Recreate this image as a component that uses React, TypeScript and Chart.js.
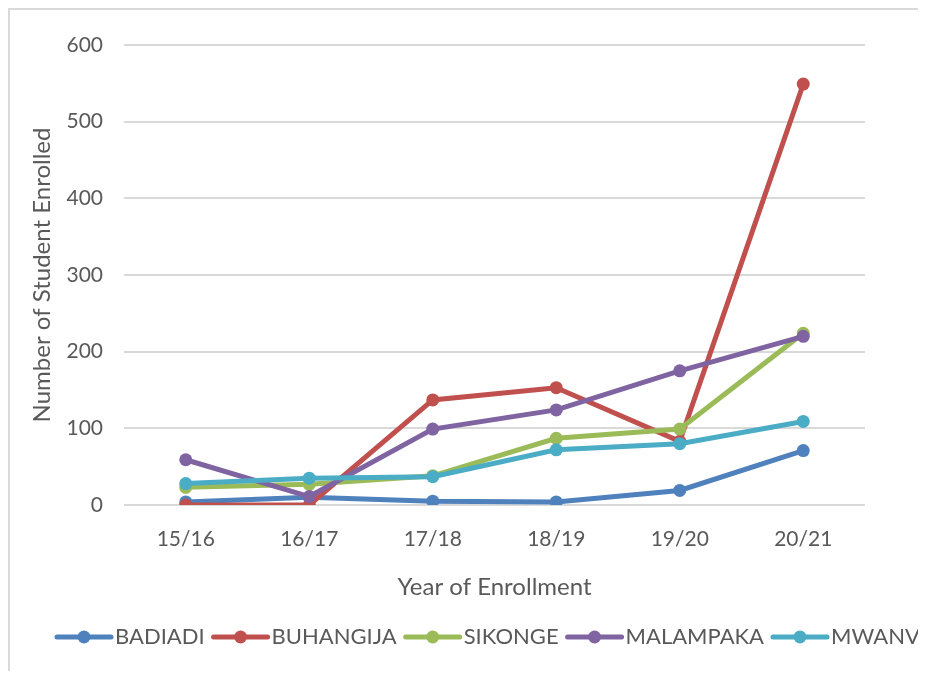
import React, { useEffect, useRef } from 'react';
import { Chart, registerables } from 'chart.js';

Chart.register(...registerables);

const categories = ['15/16', '16/17', '17/18', '18/19', '19/20', '20/21'];
const badiadi = [4, 10, 5, 4, 19, 71];
const buhangija = [0, 0, 137, 153, 83, 549];
const sikonge = [23, 27, 38, 87, 99, 224];
const malampaka = [59, 11, 99, 124, 175, 220];
const mwanva = [28, 35, 37, 72, 80, 109];

const seriesNames = ['BADIADI', 'BUHANGIJA', 'SIKONGE', 'MALAMPAKA', 'MWANVA'];
const seriesValues = [badiadi, buhangija, sikonge, malampaka, mwanva];
const seriesColors = ['#4F81BD', '#C0504D', '#9BBB59', '#8064A2', '#4BACC6'];

const yMin = 0;
const yMax = 600;
const yStep = 100;

const TEXT = '#595959';
const FONT = 'Lato';

const lineLegend = {
  id: 'lineLegend',
  afterDraw(chart: any) {
    const ctx = chart.ctx;
    ctx.save();
    ctx.font = `22px ${FONT}`;
    ctx.textBaseline = 'middle';
    ctx.textAlign = 'left';
    let x = 45;
    const y = 627;
    chart.data.datasets.forEach((ds: any) => {
      ctx.strokeStyle = ds.borderColor;
      ctx.lineWidth = 5;
      ctx.lineCap = 'round';
      ctx.beginPath();
      ctx.moveTo(x + 2, y);
      ctx.lineTo(x + 56, y);
      ctx.stroke();
      ctx.fillStyle = ds.borderColor;
      ctx.beginPath();
      ctx.arc(x + 29, y, 6.5, 0, Math.PI * 2);
      ctx.fill();
      x += 60;
      ctx.fillStyle = TEXT;
      ctx.fillText(ds.label, x, y);
      x += ctx.measureText(ds.label).width + 7;
    });
    ctx.restore();
  },
};

export default function App() {
  const ref = useRef<HTMLCanvasElement>(null);

  useEffect(() => {
    document.documentElement.style.overflow = 'hidden';
    const canvas = ref.current;
    if (!canvas) return;
    const chart = new Chart(canvas, {
      type: 'line',
      data: {
        labels: categories,
        datasets: seriesNames.map((name, i) => ({
          label: name,
          data: seriesValues[i],
          borderColor: seriesColors[i],
          backgroundColor: seriesColors[i],
          pointBackgroundColor: seriesColors[i],
          pointBorderColor: seriesColors[i],
          borderWidth: 5,
          pointRadius: 6.5,
          pointBorderWidth: 0,
          tension: 0,
          order: seriesNames.length - 1 - i,
        })),
      },
      options: {
        responsive: false,
        animation: false,
        layout: { padding: { left: 0, right: 61, top: 35, bottom: 74 } },
        plugins: {
          legend: { display: false },
          tooltip: { enabled: false },
        },
        scales: {
          x: {
            offset: true,
            grid: { display: false, drawTicks: false },
            border: { display: false },
            ticks: { color: TEXT, font: { family: FONT, size: 21 }, padding: 22 },
            title: {
              display: true,
              text: 'Year of Enrollment',
              color: TEXT,
              font: { family: FONT, size: 24 },
              padding: { top: 0, bottom: 3 },
            },
            afterFit(scale: any) {
              scale.height = 100;
            },
          },
          y: {
            min: yMin,
            max: yMax,
            ticks: { stepSize: yStep, color: TEXT, font: { family: FONT, size: 21 }, padding: 21 },
            grid: { color: '#d9d9d9', lineWidth: 2, drawTicks: false },
            border: { display: false },
            title: {
              display: true,
              text: 'Number of Student Enrolled',
              color: TEXT,
              font: { family: FONT, size: 24 },
              padding: { top: 18, bottom: 0 },
            },
            afterFit(scale: any) {
              scale.width = 114;
            },
          },
        },
      },
      plugins: [lineLegend],
    });
    return () => chart.destroy();
  }, []);

  return (
    <div
      style={{
        width: 916,
        height: 669,
        borderLeft: '2px solid #d9d9d9',
        borderTop: '2px solid #d9d9d9',
        borderBottom: '2px solid #d9d9d9',
        marginBottom: -10,
        overflow: 'hidden',
        background: '#fff',
        fontFamily: FONT,
      }}
    >
      <canvas ref={ref} width={916} height={669} style={{ display: 'block' }} />
    </div>
  );
}
